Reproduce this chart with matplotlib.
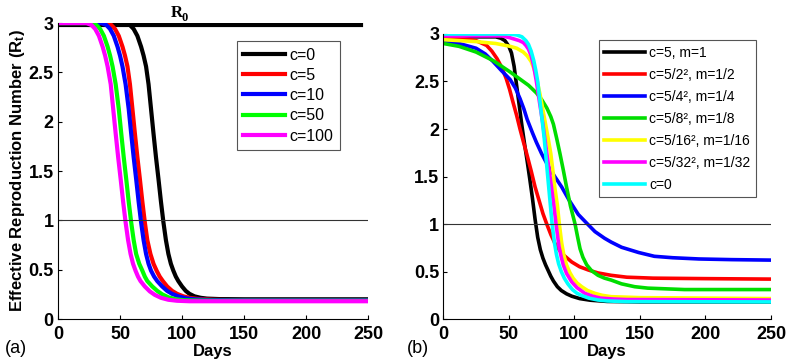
import matplotlib
matplotlib.use('Agg')
import matplotlib.pyplot as plt

plt.rcParams['font.family'] = ['Liberation Sans', 'DejaVu Sans']
plt.rcParams['mathtext.fontset'] = 'custom'
plt.rcParams['mathtext.rm'] = 'Liberation Sans'
plt.rcParams['mathtext.bf'] = 'Liberation Sans:bold'
plt.rcParams['mathtext.it'] = 'Liberation Sans:italic'

# ---- panel (a): values ----
r0_days = [0, 244]
r0_vals = [2.98, 2.98]

days_c0 = [0, 55, 58, 61, 64, 67, 69, 71, 73, 75, 77, 79, 81, 83, 85, 87, 89, 91, 93, 95,
           97, 100, 103, 106, 110, 115, 120, 130, 150, 250]
rt_c0 = [3.0, 3.0, 2.98, 2.94, 2.87, 2.76, 2.67, 2.56, 2.38, 2.13, 1.88, 1.64, 1.42, 1.19, 0.98, 0.8, 0.66, 0.56, 0.49, 0.43,
         0.385, 0.33, 0.285, 0.255, 0.23, 0.215, 0.207, 0.202, 0.2, 0.2]

days_c5 = [0, 40, 43, 46, 49, 52, 54, 56, 58, 60, 62, 64, 66, 68, 70, 72, 74.5, 77, 79.5, 82,
           84.5, 88, 92, 96, 101, 107, 114, 125, 145, 250]
rt_c5 = [3.0, 3.0, 2.98, 2.94, 2.87, 2.76, 2.67, 2.56, 2.38, 2.13, 1.88, 1.64, 1.42, 1.19, 0.98, 0.8, 0.66, 0.56, 0.49, 0.43,
         0.385, 0.33, 0.285, 0.255, 0.23, 0.212, 0.202, 0.195, 0.19, 0.19]

days_c10 = [0, 35, 39, 42, 45, 48, 50, 52, 54.5, 57, 59, 61, 63, 65, 67, 69, 71, 73, 75, 77.5,
            80, 84, 88, 92, 97, 103, 110, 120, 140, 250]
rt_c10 = [3.0, 3.0, 2.98, 2.94, 2.87, 2.76, 2.67, 2.56, 2.38, 2.13, 1.88, 1.64, 1.42, 1.19, 0.98, 0.8, 0.66, 0.56, 0.49, 0.43,
          0.385, 0.33, 0.285, 0.255, 0.23, 0.21, 0.2, 0.193, 0.19, 0.19]

days_c50 = [0, 27, 31, 34, 37, 40, 42, 44, 46.5, 49, 51, 53, 55, 57, 59, 61, 63, 65.5, 68, 70,
            72, 76, 80, 84, 89, 95, 102, 112, 130, 250]
rt_c50 = [3.0, 3.0, 2.98, 2.94, 2.87, 2.76, 2.67, 2.56, 2.38, 2.13, 1.88, 1.64, 1.42, 1.19, 0.98, 0.8, 0.66, 0.56, 0.49, 0.43,
          0.385, 0.33, 0.285, 0.25, 0.22, 0.2, 0.19, 0.187, 0.185, 0.185]

days_c100 = [0, 23, 27, 30, 33, 36, 38, 40, 42.5, 44.5, 46.5, 48.5, 50.5, 52.5, 54.5, 56.5, 58.5, 60.5, 62.5, 64.5,
             66.5, 70, 74, 78, 83, 89, 96, 106, 125, 250]
rt_c100 = [3.0, 3.0, 2.98, 2.94, 2.87, 2.76, 2.67, 2.56, 2.38, 2.13, 1.88, 1.64, 1.42, 1.19, 0.98, 0.8, 0.66, 0.56, 0.49, 0.43,
           0.385, 0.33, 0.28, 0.245, 0.215, 0.195, 0.185, 0.18, 0.18, 0.18]

# ---- panel (b) ----
days_m1 = [0, 40, 44, 47, 50, 52, 54, 56, 58, 60, 62, 64, 66, 68, 70, 72, 74, 76, 78, 80,
           82, 84, 87, 90, 94, 98, 104, 112, 125, 150, 250]
rt_m1 = [2.97, 2.97, 2.955, 2.93, 2.87, 2.8, 2.66, 2.45, 2.24, 2.03, 1.84, 1.66, 1.47, 1.27, 1.05, 0.86, 0.73, 0.64, 0.57, 0.51,
         0.45, 0.4, 0.34, 0.3, 0.265, 0.24, 0.215, 0.198, 0.185, 0.18, 0.18]

days_m2 = [0, 15, 25, 33, 37, 41, 44.5, 48, 50.5, 53, 56, 58.5, 61, 63.6, 67, 70, 73, 76, 78.9, 82,
           85, 87.7, 92, 98, 104, 110.6, 118, 128, 140, 160, 200, 250]
rt_m2 = [2.96, 2.95, 2.93, 2.88, 2.82, 2.74, 2.65, 2.53, 2.42, 2.29, 2.14, 2.0, 1.87, 1.74, 1.56, 1.39, 1.25, 1.11, 1.0, 0.89,
         0.8, 0.74, 0.67, 0.6, 0.55, 0.516, 0.485, 0.46, 0.44, 0.43, 0.425, 0.42]

days_m4 = [0, 12, 25, 32, 38, 44, 51, 55, 58.5, 61.5, 64, 68, 71, 75, 80, 85, 90.3, 96, 103, 110,
           115.7, 123, 128, 136, 149, 161, 175, 195, 220, 250]
rt_m4 = [2.93, 2.9, 2.85, 2.79, 2.71, 2.62, 2.52, 2.43, 2.32, 2.21, 2.1, 1.96, 1.86, 1.74, 1.61, 1.5, 1.39, 1.25, 1.1, 1.0,
         0.92, 0.85, 0.81, 0.755, 0.7, 0.66, 0.645, 0.632, 0.625, 0.62]

days_m8 = [0, 12, 25, 38, 51, 58, 65, 71, 75, 79, 82, 84, 86.5, 89, 91.5, 94, 97, 100.5, 102.5, 104.3,
           106.5, 109.4, 113, 118, 123, 128, 136, 146, 156, 184, 250]
rt_m8 = [2.9, 2.87, 2.81, 2.72, 2.6, 2.53, 2.46, 2.38, 2.31, 2.22, 2.13, 2.05, 1.9, 1.74, 1.57, 1.39, 1.19, 1.0, 0.86, 0.74,
         0.65, 0.57, 0.51, 0.46, 0.43, 0.41, 0.37, 0.34, 0.325, 0.31, 0.31]

days_m16 = [0, 25, 40, 51, 56, 61, 64, 67, 69.5, 71.7, 74, 76, 78, 80, 82, 83.5, 85, 87, 88.5, 90.3,
            92, 94, 96.5, 99, 102, 105.6, 110, 115.7, 121, 128, 150, 250]
rt_m16 = [2.94, 2.92, 2.9, 2.87, 2.85, 2.81, 2.77, 2.71, 2.62, 2.5, 2.35, 2.2, 2.05, 1.9, 1.74, 1.57, 1.39, 1.2, 1.0, 0.8,
          0.67, 0.57, 0.49, 0.43, 0.38, 0.34, 0.3, 0.27, 0.25, 0.235, 0.225, 0.215]

days_m32 = [0, 45, 51, 58, 61, 63, 65, 67, 69, 71, 73.5, 76, 79, 82.5, 84.3, 86, 87.3, 88.3, 90, 91.5,
            94, 98, 102, 108, 114, 120, 130, 140, 250]
rt_m32 = [2.98, 2.98, 2.96, 2.93, 2.91, 2.88, 2.84, 2.77, 2.66, 2.5, 2.27, 2.05, 1.74, 1.39, 1.2, 1.0, 0.86, 0.76, 0.65, 0.57,
          0.48, 0.39, 0.33, 0.27, 0.24, 0.22, 0.21, 0.205, 0.2]

days_b0 = [0, 50, 56, 60, 63, 65, 67, 69, 70.5, 72, 74.5, 77, 79, 81, 83, 84.8, 86.3, 88, 90, 92.3,
           95, 98.5, 102, 106, 111, 118, 125, 140, 250]
rt_b0 = [3.0, 3.0, 2.99, 2.97, 2.93, 2.89, 2.82, 2.72, 2.62, 2.5, 2.2, 1.9, 1.6, 1.3, 1.0, 0.8, 0.68, 0.58, 0.5, 0.43,
         0.37, 0.31, 0.27, 0.245, 0.22, 0.2, 0.19, 0.183, 0.18]

labels_a = ['c=0', 'c=5', 'c=10', 'c=50', 'c=100']
labels_b = ['c=5, m=1', 'c=5/2\u00b2, m=1/2', 'c=5/4\u00b2, m=1/4',
            'c=5/8\u00b2, m=1/8', 'c=5/16\u00b2, m=1/16',
            'c=5/32\u00b2, m=1/32', 'c=0']

colors_a = ['black', 'red', 'blue', '#00ff00', '#ff00ff']
colors_b = ['black', 'red', 'blue', '#00dd00', '#ffff00', '#ff00ff', '#00ffff']

fig, (ax1, ax2) = plt.subplots(1, 2, figsize=(7.87, 3.64), dpi=100)
ax1.set_position([0.0737, 0.1236, 0.394, 0.813])
ax2.set_position([0.5633, 0.1236, 0.4164, 0.783])

# panel (a)
ax1.plot(r0_days, r0_vals, c='black', lw=3)
curves_a = [(days_c0, rt_c0), (days_c5, rt_c5), (days_c10, rt_c10), (days_c50, rt_c50), (days_c100, rt_c100)]
for (d, r), col, lab in zip(curves_a, colors_a, labels_a):
    ax1.plot(d, r, c=col, lw=3, label=lab, solid_joinstyle='round')
ax1.plot([0, 250], [1, 1], c='#333333', lw=0.8)
ax1.text(91, 3.06, 'R', fontsize=12, family='Liberation Serif', fontweight='bold', clip_on=False)
ax1.text(99.5, 3.025, '0', fontsize=9, family='Liberation Serif', fontweight='bold', clip_on=False)

# panel (b)
curves_b = [(days_m1, rt_m1), (days_m2, rt_m2), (days_m4, rt_m4), (days_m8, rt_m8),
            (days_m16, rt_m16), (days_m32, rt_m32), (days_b0, rt_b0)]
for (d, r), col, lab in zip(curves_b, colors_b, labels_b):
    ax2.plot(d, r, c=col, lw=2.6, label=lab, solid_joinstyle='round')
ax2.plot([0, 250], [1, 1], c='#333333', lw=0.8)

fontsize = 12

for ax in (ax1, ax2):
    ax.set_xlim(0, 250)
    ax.set_ylim(0, 3)
    ax.set_xticks([0, 50, 100, 150, 200, 250])
    ax.set_yticks([0, 0.5, 1, 1.5, 2, 2.5, 3])
    ax.set_yticklabels(['0', '0.5', '1', '1.5', '2', '2.5', '3'])
    ax.spines['top'].set_visible(False)
    ax.spines['right'].set_visible(False)
    ax.tick_params(direction='in', length=3, width=0.8, labelsize=13)
    ax.tick_params(axis='x', pad=5)
    ax.tick_params(axis='y', pad=3)
    for t in ax.get_xticklabels() + ax.get_yticklabels():
        t.set_fontweight('bold')
    ax.set_xlabel('Days', fontsize=fontsize, fontweight='bold', labelpad=1)

ax1.set_ylabel(r'Effective Reproduction Number (R$_\mathbf{t}$)', fontsize=fontsize, fontweight='bold', labelpad=1)

leg1 = ax1.legend(loc='upper left', bbox_to_anchor=(0.301, 0.887), bbox_transform=fig.transFigure,
                  borderaxespad=0, fontsize=11.5, handlelength=2.6, handletextpad=0.3,
                  labelspacing=0.33, fancybox=False, framealpha=1, edgecolor='#555555')
leg2 = ax2.legend(loc='upper left', bbox_to_anchor=(0.761, 0.89), bbox_transform=fig.transFigure,
                  borderaxespad=0, fontsize=10, handlelength=2.9, handletextpad=0.3,
                  labelspacing=0.58, fancybox=False, framealpha=1, edgecolor='#555555')
for leg in (leg1, leg2):
    leg.get_frame().set_linewidth(0.8)

fig.text(0.006, 0.03, '(a)', fontsize=13)
fig.text(0.517, 0.03, '(b)', fontsize=13)

fig.savefig('out.png', dpi=100)
